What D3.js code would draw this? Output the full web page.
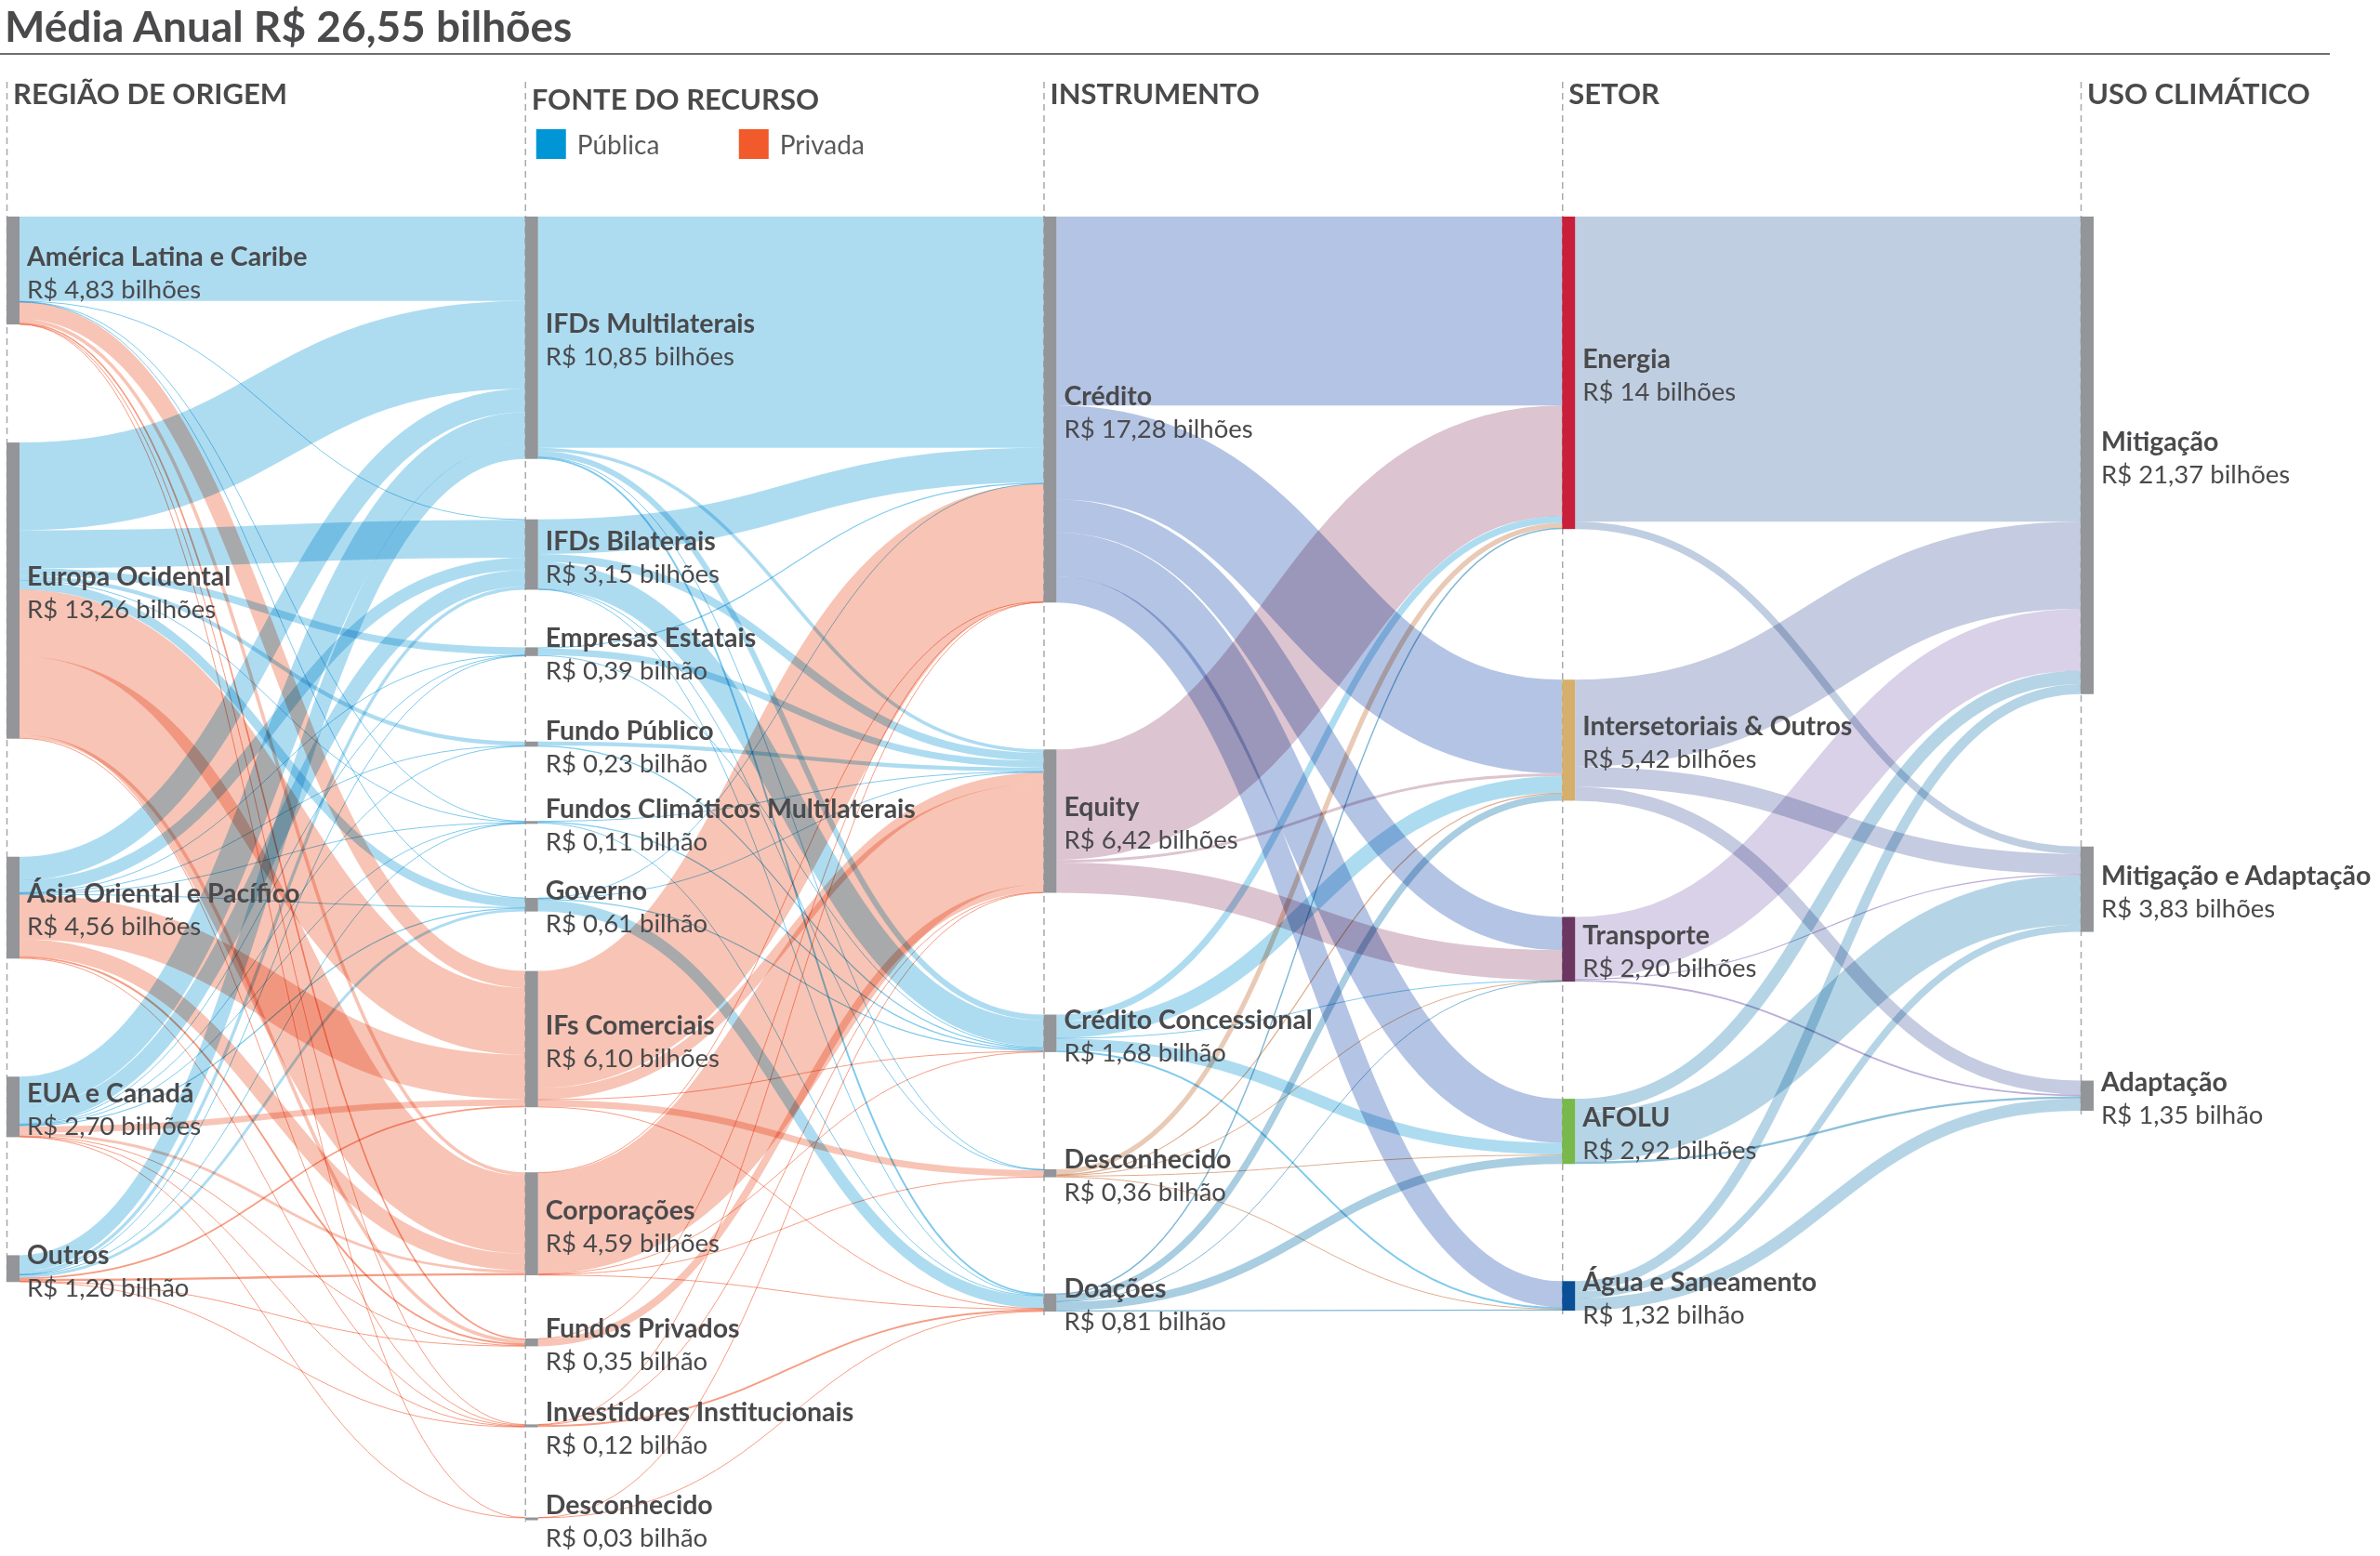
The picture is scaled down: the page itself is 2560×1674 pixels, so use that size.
<!DOCTYPE html>
<html><head><meta charset="utf-8">
<script src="https://cdn.jsdelivr.net/npm/d3@7"></script>
<style>
html,body{margin:0;padding:0;background:#fff;}
svg{display:block;font-family:Lato,"Open Sans",sans-serif;}
</style></head>
<body><svg id="chart" width="2560" height="1674"></svg>
<script>
// ===================== DATA =====================
const titulo = "Média Anual R$ 26,55 bilhões";
const colunas = ["REGIÃO DE ORIGEM", "FONTE DO RECURSO", "INSTRUMENTO", "SETOR", "USO CLIMÁTICO"];
const legenda = ["Pública", "Privada"];

const regioes = ["América Latina e Caribe", "Europa Ocidental", "Ásia Oriental e Pacífico", "EUA e Canadá", "Outros"];
const regioesValor = [4.83, 13.26, 4.56, 2.70, 1.20];

const fontes = ["IFDs Multilaterais", "IFDs Bilaterais", "Empresas Estatais", "Fundo Público",
  "Fundos Climáticos Multilaterais", "Governo", "IFs Comerciais", "Corporações", "Fundos Privados",
  "Investidores Institucionais", "Desconhecido"];
const fontesValor = [10.85, 3.15, 0.39, 0.23, 0.11, 0.61, 6.10, 4.59, 0.35, 0.12, 0.03];
const fontesTipo = ["Pública", "Pública", "Pública", "Pública", "Pública", "Pública",
  "Privada", "Privada", "Privada", "Privada", "Privada"];

const instrumentos = ["Crédito", "Equity", "Crédito Concessional", "Desconhecido", "Doações"];
const instrumentosValor = [17.28, 6.42, 1.68, 0.36, 0.81];

const setores = ["Energia", "Intersetoriais & Outros", "Transporte", "AFOLU", "Água e Saneamento"];
const setoresValor = [14, 5.42, 2.90, 2.92, 1.32];

const usos = ["Mitigação", "Mitigação e Adaptação", "Adaptação"];
const usosValor = [21.37, 3.83, 1.35];

// fluxos (R$ bilhões), estimados a partir do gráfico
const fluxoRegiaoFonte = [
  ["América Latina e Caribe", "IFDs Multilaterais", 3.78], ["América Latina e Caribe", "IFDs Bilaterais", 0.02],
  ["América Latina e Caribe", "Fundos Climáticos Multilaterais", 0.02], ["América Latina e Caribe", "Governo", 0.01],
  ["América Latina e Caribe", "IFs Comerciais", 0.75], ["América Latina e Caribe", "Corporações", 0.15],
  ["América Latina e Caribe", "Fundos Privados", 0.07], ["América Latina e Caribe", "Investidores Institucionais", 0.02],
  ["América Latina e Caribe", "Desconhecido", 0.01],
  ["Europa Ocidental", "IFDs Multilaterais", 3.93], ["Europa Ocidental", "IFDs Bilaterais", 1.70],
  ["Europa Ocidental", "Empresas Estatais", 0.33], ["Europa Ocidental", "Fundo Público", 0.18],
  ["Europa Ocidental", "Fundos Climáticos Multilaterais", 0.04], ["Europa Ocidental", "Governo", 0.40],
  ["Europa Ocidental", "IFs Comerciais", 3.00], ["Europa Ocidental", "Corporações", 3.49],
  ["Europa Ocidental", "Fundos Privados", 0.15], ["Europa Ocidental", "Investidores Institucionais", 0.04],
  ["Ásia Oriental e Pacífico", "IFDs Multilaterais", 1.05], ["Ásia Oriental e Pacífico", "IFDs Bilaterais", 0.55],
  ["Ásia Oriental e Pacífico", "Empresas Estatais", 0.02], ["Ásia Oriental e Pacífico", "Fundo Público", 0.02],
  ["Ásia Oriental e Pacífico", "Fundos Climáticos Multilaterais", 0.03], ["Ásia Oriental e Pacífico", "Governo", 0.03],
  ["Ásia Oriental e Pacífico", "IFs Comerciais", 2.00], ["Ásia Oriental e Pacífico", "Corporações", 0.75],
  ["Ásia Oriental e Pacífico", "Fundos Privados", 0.08], ["Ásia Oriental e Pacífico", "Investidores Institucionais", 0.03],
  ["EUA e Canadá", "IFDs Multilaterais", 1.37], ["EUA e Canadá", "IFDs Bilaterais", 0.74],
  ["EUA e Canadá", "Empresas Estatais", 0.03], ["EUA e Canadá", "Fundo Público", 0.03],
  ["EUA e Canadá", "Fundos Climáticos Multilaterais", 0.01], ["EUA e Canadá", "Governo", 0.05],
  ["EUA e Canadá", "IFs Comerciais", 0.28], ["EUA e Canadá", "Corporações", 0.12],
  ["EUA e Canadá", "Fundos Privados", 0.04], ["EUA e Canadá", "Investidores Institucionais", 0.02],
  ["EUA e Canadá", "Desconhecido", 0.02],
  ["Outros", "IFDs Multilaterais", 0.72], ["Outros", "IFDs Bilaterais", 0.14], ["Outros", "Empresas Estatais", 0.01],
  ["Outros", "Fundos Climáticos Multilaterais", 0.01], ["Outros", "Governo", 0.12], ["Outros", "IFs Comerciais", 0.07],
  ["Outros", "Corporações", 0.10], ["Outros", "Fundos Privados", 0.01], ["Outros", "Investidores Institucionais", 0.02]
];

const fluxoFonteInstrumento = [
  ["IFDs Multilaterais", "Crédito", 10.35], ["IFDs Multilaterais", "Equity", 0.15], ["IFDs Multilaterais", "Crédito Concessional", 0.25],
  ["IFDs Multilaterais", "Desconhecido", 0.02], ["IFDs Multilaterais", "Doações", 0.08],
  ["IFDs Bilaterais", "Crédito", 1.55], ["IFDs Bilaterais", "Equity", 0.36], ["IFDs Bilaterais", "Crédito Concessional", 1.20],
  ["IFDs Bilaterais", "Desconhecido", 0.02], ["IFDs Bilaterais", "Doações", 0.02],
  ["Empresas Estatais", "Crédito", 0.05], ["Empresas Estatais", "Equity", 0.30], ["Empresas Estatais", "Crédito Concessional", 0.04],
  ["Fundo Público", "Equity", 0.18], ["Fundo Público", "Crédito Concessional", 0.05],
  ["Fundos Climáticos Multilaterais", "Equity", 0.02], ["Fundos Climáticos Multilaterais", "Crédito Concessional", 0.05],
  ["Fundos Climáticos Multilaterais", "Doações", 0.04],
  ["Governo", "Crédito", 0.02], ["Governo", "Equity", 0.02], ["Governo", "Crédito Concessional", 0.05], ["Governo", "Doações", 0.52],
  ["IFs Comerciais", "Crédito", 5.25], ["IFs Comerciais", "Equity", 0.50], ["IFs Comerciais", "Crédito Concessional", 0.02],
  ["IFs Comerciais", "Desconhecido", 0.30], ["IFs Comerciais", "Doações", 0.03],
  ["Corporações", "Crédito", 0.03], ["Corporações", "Equity", 4.52], ["Corporações", "Crédito Concessional", 0.02],
  ["Corporações", "Desconhecido", 0.02], ["Corporações", "Doações", 0.02],
  ["Fundos Privados", "Crédito", 0.02], ["Fundos Privados", "Equity", 0.33],
  ["Investidores Institucionais", "Crédito", 0.01], ["Investidores Institucionais", "Equity", 0.03],
  ["Investidores Institucionais", "Doações", 0.08],
  ["Desconhecido", "Equity", 0.01], ["Desconhecido", "Doações", 0.02]
];

const fluxoInstrumentoSetor = [
  ["Crédito", "Energia", 8.46], ["Crédito", "Intersetoriais & Outros", 4.20], ["Crédito", "Transporte", 1.49],
  ["Crédito", "AFOLU", 1.97], ["Crédito", "Água e Saneamento", 1.16],
  ["Equity", "Energia", 4.95], ["Equity", "Intersetoriais & Outros", 0.12], ["Equity", "Transporte", 1.35],
  ["Crédito Concessional", "Energia", 0.30], ["Crédito Concessional", "Intersetoriais & Outros", 0.75],
  ["Crédito Concessional", "Transporte", 0.02], ["Crédito Concessional", "AFOLU", 0.53], ["Crédito Concessional", "Água e Saneamento", 0.08],
  ["Desconhecido", "Energia", 0.22], ["Desconhecido", "Intersetoriais & Outros", 0.05], ["Desconhecido", "Transporte", 0.02],
  ["Desconhecido", "AFOLU", 0.04], ["Desconhecido", "Água e Saneamento", 0.03],
  ["Doações", "Energia", 0.06], ["Doações", "Intersetoriais & Outros", 0.30], ["Doações", "Transporte", 0.02],
  ["Doações", "AFOLU", 0.38], ["Doações", "Água e Saneamento", 0.05]
];

const fluxoSetorUso = [
  ["Energia", "Mitigação", 13.66], ["Energia", "Mitigação e Adaptação", 0.33],
  ["Intersetoriais & Outros", "Mitigação", 3.90], ["Intersetoriais & Outros", "Mitigação e Adaptação", 0.90], ["Intersetoriais & Outros", "Adaptação", 0.62],
  ["Transporte", "Mitigação", 2.77], ["Transporte", "Mitigação e Adaptação", 0.05], ["Transporte", "Adaptação", 0.08],
  ["AFOLU", "Mitigação", 0.60], ["AFOLU", "Mitigação e Adaptação", 2.22], ["AFOLU", "Adaptação", 0.10],
  ["Água e Saneamento", "Mitigação", 0.45], ["Água e Saneamento", "Mitigação e Adaptação", 0.32], ["Água e Saneamento", "Adaptação", 0.55]
];

// ===================== LAYOUT & STYLE =====================
const W = 2560, H = 1674;
const colX = d3.scalePoint().domain(d3.range(5)).range([7, 2238]);
const yTop = 233;
const ky = d3.scaleLinear().domain([0, 26.55]).range([0, 638]);
const nodeWidth = 14;
const colGaps = [[127,127,127,127],[65,62,92,80,80,64,70,68,84,97],[158,131,126,125],[162,125,126,126],[164,160]];
const textColor = "#4a4a4c";
const legendColor = {"Pública": "#0096d6", "Privada": "#f15a2b"};
const linkTipo = {"Pública": "#addcf1", "Privada": "#f8c4b5"};
const linkInstrumento = {"Crédito": "#b4c4e4", "Equity": "#dcc4d0", "Crédito Concessional": "#addcf1", "Desconhecido": "#e9cab6", "Doações": "#a9cde1"};
const linkSetor = {"Energia": "#c0cee1", "Intersetoriais & Outros": "#c5cbe0", "Transporte": "#d9d1e8", "AFOLU": "#b5d5e6", "Água e Saneamento": "#b5d5e6"};
const nodeSetor = {"Energia": "#c8203a", "Intersetoriais & Outros": "#d4b06c", "Transporte": "#6b3762", "AFOLU": "#78b84c", "Água e Saneamento": "#0b4f96"};
const nodeGray = "#939598";

// ===================== BUILD =====================
const colDefs = [
  {names: regioes, valores: regioesValor},
  {names: fontes, valores: fontesValor},
  {names: instrumentos, valores: instrumentosValor},
  {names: setores, valores: setoresValor},
  {names: usos, valores: usosValor}
];
const nodes = [];
colDefs.forEach((c, ci) => c.names.forEach((n, i) => nodes.push({
  id: ci + "|" + n, col: ci, idx: i, name: n, valor: c.valores[i], sIn: 0, sOut: 0, inL: [], outL: []
})));
const byId = new Map(nodes.map(n => [n.id, n]));
const links = [];
[fluxoRegiaoFonte, fluxoFonteInstrumento, fluxoInstrumentoSetor, fluxoSetorUso].forEach((fs, ci) => {
  fs.forEach(([s, t, v]) => {
    const S = byId.get(ci + "|" + s), T = byId.get((ci + 1) + "|" + t);
    if (!S || !T) return;
    const l = {source: S, target: T, value: v, stage: ci};
    S.outL.push(l); T.inL.push(l); S.sOut += v; T.sIn += v; links.push(l);
  });
});
nodes.forEach(n => n.value = Math.max(n.sIn, n.sOut));
for (let ci = 0; ci < 5; ci++) {
  let y = yTop;
  nodes.filter(n => n.col === ci).forEach(n => {
    if (n.idx > 0) y += colGaps[ci][n.idx - 1];
    n.y0 = y; n.y1 = y + ky(n.value); y = n.y1;
  });
}
nodes.forEach(n => {
  n.outL.sort((a, b) => a.target.y0 - b.target.y0 || a.target.idx - b.target.idx);
  let o = n.y0;
  n.outL.forEach(l => { l.w = ky(l.value); l.sy = o + l.w / 2; o += l.w; });
});
nodes.forEach(n => {
  n.inL.sort((a, b) => a.source.y0 - b.source.y0 || a.source.idx - b.source.idx);
  let o = n.y0;
  n.inL.forEach(l => { l.ty = o + l.w / 2; o += l.w; });
});

function baseColor(l) {
  if (l.stage === 0) return linkTipo[fontesTipo[l.target.idx]];
  if (l.stage === 1) return linkTipo[fontesTipo[l.source.idx]];
  if (l.stage === 2) return linkInstrumento[l.source.name];
  return linkSetor[l.source.name];
}
function thinColor(c) {
  const h = d3.hsl(c); h.s = Math.min(1, h.s * 1.05); h.l = h.l - 0.1; return h.formatHex();
}

const svg = d3.select("#chart");

// título
svg.append("text").attr("x", 5).attr("y", 45).text(titulo)
  .attr("font-size", 46).attr("font-weight", 700).attr("fill", "#4a4a4c");
svg.append("line").attr("x1", 0).attr("x2", 2506).attr("y1", 58).attr("y2", 58)
  .attr("stroke", "#6d6e70").attr("stroke-width", 2);

// linhas tracejadas das colunas
for (let ci = 0; ci < 5; ci++) {
  const last = d3.max(nodes.filter(n => n.col === ci), n => n.y1);
  svg.append("line").attr("x1", colX(ci) + 0.5).attr("x2", colX(ci) + 0.5)
    .attr("y1", 88).attr("y2", last + 4)
    .attr("stroke", "#a7a9ac").attr("stroke-width", 1.5).attr("stroke-dasharray", "7,5");
}

// cabeçalhos
svg.selectAll("text.col").data(colunas).join("text").attr("class", "col")
  .attr("x", (d, i) => colX(i) + 7).attr("y", (d, i) => i === 1 ? 118 : 112)
  .attr("font-size", 31).attr("font-weight", 700).attr("fill", textColor).text(d => d);

// legenda
const lg = svg.append("g");
legenda.forEach((t, i) => {
  const x = colX(1) + 12 + i * 218;
  lg.append("rect").attr("x", x).attr("y", 139).attr("width", 32).attr("height", 32).attr("fill", legendColor[t]);
  lg.append("text").attr("x", x + 44).attr("y", 166).attr("font-size", 28).attr("fill", "#58595b").text(t);
});

// links
const linkGen = d3.linkHorizontal();
svg.append("g").selectAll("path").data(links).join("path")
  .attr("d", l => linkGen({source: [colX(l.source.col) + nodeWidth, l.sy], target: [colX(l.target.col), l.ty]}))
  .attr("fill", "none")
  .attr("stroke", l => l.w < 2.5 ? thinColor(baseColor(l)) : baseColor(l))
  .attr("stroke-width", l => Math.max(1, l.w))
  .style("mix-blend-mode", "multiply");

// nós
svg.append("g").selectAll("rect").data(nodes).join("rect")
  .attr("x", n => colX(n.col)).attr("y", n => n.y0)
  .attr("width", nodeWidth).attr("height", n => Math.max(3, n.y1 - n.y0))
  .attr("fill", n => n.col === 3 ? nodeSetor[n.name] : nodeGray);

// rótulos
function fmt(v) {
  const s = Number.isInteger(v) ? String(v) : v.toFixed(2).replace(".", ",");
  return "R$ " + s + (v < 2 ? " bilhão" : " bilhões");
}
const lab = svg.append("g").selectAll("g").data(nodes).join("g")
  .attr("transform", n => `translate(${colX(n.col) + 22},${(n.y0 + Math.max(n.y1, n.y0 + 3)) / 2})`);
lab.append("text").attr("y", -5).attr("font-size", 28.5).attr("font-weight", 700).attr("fill", textColor).text(n => n.name);
lab.append("text").attr("y", 30).attr("font-size", 27.5).attr("font-weight", 400).attr("fill", textColor).text(n => fmt(n.valor));
</script>
</body></html>
